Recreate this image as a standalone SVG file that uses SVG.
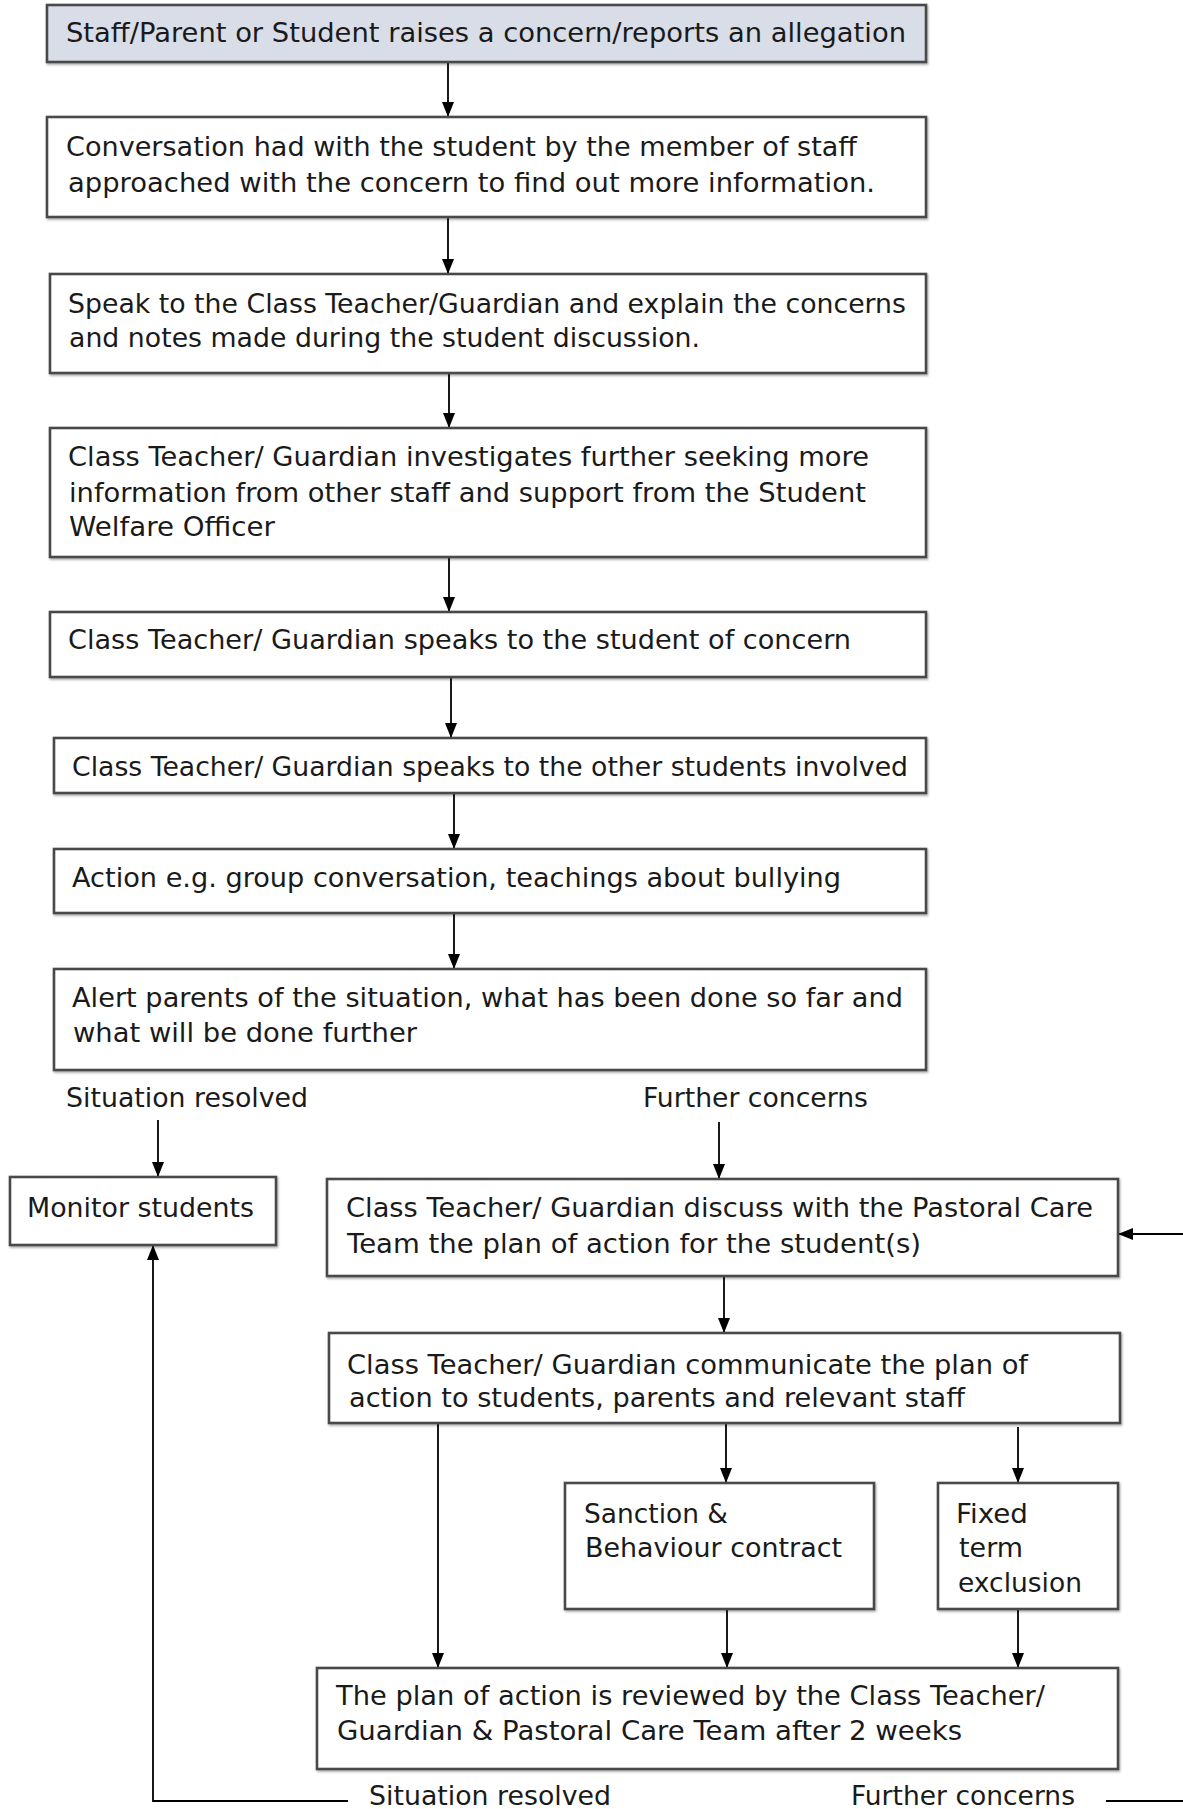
<svg xmlns="http://www.w3.org/2000/svg" width="1183" height="1809" viewBox="0 0 1183 1809">
<defs>
<marker id="ah" markerUnits="userSpaceOnUse" markerWidth="16" markerHeight="14" refX="15" refY="6" orient="auto">
<path d="M0,0 L15,6 L0,12 Z" fill="#000"/>
</marker>
<filter id="sh" x="-5%" y="-5%" width="110%" height="115%">
<feDropShadow dx="1" dy="1.5" stdDeviation="0.8" flood-color="#000" flood-opacity="0.35"/>
</filter>
</defs>
<style>
.box{fill:#fff;stroke:#4a4a4a;stroke-width:2.6;filter:url(#sh)}
.hd{fill:#d8dde7}
text{font-family:"DejaVu Sans","Liberation Sans",sans-serif;font-size:27px;fill:#1a1a1a}
.c{fill:none;stroke:#000;stroke-width:1.8}
.ca{fill:none;stroke:#000;stroke-width:1.8;marker-end:url(#ah)}
</style>
<rect width="1183" height="1809" fill="#fff"/>

<g id="connectors">
<line class="ca" x1="448" y1="58" x2="448" y2="117"/>
<line class="ca" x1="448" y1="217" x2="448" y2="274"/>
<line class="ca" x1="449" y1="373" x2="449" y2="428"/>
<line class="ca" x1="449" y1="557" x2="449" y2="612"/>
<line class="ca" x1="451" y1="677" x2="451" y2="738"/>
<line class="ca" x1="454" y1="793" x2="454" y2="849"/>
<line class="ca" x1="454" y1="913" x2="454" y2="969"/>
<line class="ca" x1="158" y1="1120" x2="158" y2="1177"/>
<line class="ca" x1="719" y1="1122" x2="719" y2="1179"/>
<line class="ca" x1="724" y1="1276" x2="724" y2="1333"/>
<line class="ca" x1="438" y1="1423" x2="438" y2="1668"/>
<line class="ca" x1="726" y1="1423" x2="726" y2="1483"/>
<line class="ca" x1="1018" y1="1427" x2="1018" y2="1483"/>
<line class="ca" x1="727" y1="1609" x2="727" y2="1668"/>
<line class="ca" x1="1018" y1="1609" x2="1018" y2="1668"/>
<path class="ca" d="M348,1801 H153 V1245"/>
<path class="ca" d="M1106,1801 H1195 V1234 H1118"/>
</g>

<g id="n1"><rect class="box hd" x="47" y="5" width="879" height="57"/>
<text x="66" y="42" textLength="840" lengthAdjust="spacingAndGlyphs">Staff/Parent or Student raises a concern/reports an allegation</text></g>

<g id="n2"><rect class="box" x="47" y="117" width="879" height="100"/>
<text x="66" y="156" textLength="791" lengthAdjust="spacingAndGlyphs">Conversation had with the student by the member of staff</text>
<text x="68" y="192" textLength="807" lengthAdjust="spacingAndGlyphs">approached with the concern to find out more information.</text></g>

<g id="n3"><rect class="box" x="50" y="274" width="876" height="99"/>
<text x="68" y="313" textLength="838" lengthAdjust="spacingAndGlyphs">Speak to the Class Teacher/Guardian and explain the concerns</text>
<text x="69" y="347" textLength="631" lengthAdjust="spacingAndGlyphs">and notes made during the student discussion.</text></g>

<g id="n4"><rect class="box" x="50" y="428" width="876" height="129"/>
<text x="68" y="466" textLength="801" lengthAdjust="spacingAndGlyphs">Class Teacher/ Guardian investigates further seeking more</text>
<text x="69" y="502" textLength="797" lengthAdjust="spacingAndGlyphs">information from other staff and support from the Student</text>
<text x="69" y="536" textLength="206" lengthAdjust="spacingAndGlyphs">Welfare Officer</text></g>

<g id="n5"><rect class="box" x="50" y="612" width="876" height="65"/>
<text x="68" y="649" textLength="783" lengthAdjust="spacingAndGlyphs">Class Teacher/ Guardian speaks to the student of concern</text></g>

<g id="n6"><rect class="box" x="54" y="738" width="872" height="55"/>
<text x="72" y="776" textLength="836" lengthAdjust="spacingAndGlyphs">Class Teacher/ Guardian speaks to the other students involved</text></g>

<g id="n7"><rect class="box" x="54" y="849" width="872" height="64"/>
<text x="72" y="887" textLength="769" lengthAdjust="spacingAndGlyphs">Action e.g. group conversation, teachings about bullying</text></g>

<g id="n8"><rect class="box" x="54" y="969" width="872" height="101"/>
<text x="72" y="1007" textLength="831" lengthAdjust="spacingAndGlyphs">Alert parents of the situation, what has been done so far and</text>
<text x="73" y="1042" textLength="344" lengthAdjust="spacingAndGlyphs">what will be done further</text></g>

<g id="labels">
<text x="66" y="1107" textLength="242" lengthAdjust="spacingAndGlyphs">Situation resolved</text>
<text x="643" y="1107" textLength="225" lengthAdjust="spacingAndGlyphs">Further concerns</text>
<text x="369" y="1805" textLength="242" lengthAdjust="spacingAndGlyphs">Situation resolved</text>
<text x="851" y="1805" textLength="224" lengthAdjust="spacingAndGlyphs">Further concerns</text>
</g>

<g id="monitor"><rect class="box" x="10" y="1177" width="266" height="68"/>
<text x="27" y="1217" textLength="227" lengthAdjust="spacingAndGlyphs">Monitor students</text></g>

<g id="n9"><rect class="box" x="327" y="1179" width="791" height="97"/>
<text x="346" y="1217" textLength="747" lengthAdjust="spacingAndGlyphs">Class Teacher/ Guardian discuss with the Pastoral Care</text>
<text x="347" y="1253" textLength="574" lengthAdjust="spacingAndGlyphs">Team the plan of action for the student(s)</text></g>

<g id="n10"><rect class="box" x="329" y="1333" width="791" height="90"/>
<text x="347" y="1374" textLength="681" lengthAdjust="spacingAndGlyphs">Class Teacher/ Guardian communicate the plan of</text>
<text x="349" y="1407" textLength="616" lengthAdjust="spacingAndGlyphs">action to students, parents and relevant staff</text></g>

<g id="sanction"><rect class="box" x="565" y="1483" width="309" height="126"/>
<text x="584" y="1523" textLength="144" lengthAdjust="spacingAndGlyphs">Sanction &amp;</text>
<text x="585" y="1557" textLength="257" lengthAdjust="spacingAndGlyphs">Behaviour contract</text></g>

<g id="fixed"><rect class="box" x="938" y="1483" width="180" height="126"/>
<text x="956" y="1523" textLength="72" lengthAdjust="spacingAndGlyphs">Fixed</text>
<text x="959" y="1557" textLength="64" lengthAdjust="spacingAndGlyphs">term</text>
<text x="958" y="1592" textLength="124" lengthAdjust="spacingAndGlyphs">exclusion</text></g>

<g id="review"><rect class="box" x="317" y="1668" width="801" height="101"/>
<text x="336" y="1705" textLength="709" lengthAdjust="spacingAndGlyphs">The plan of action is reviewed by the Class Teacher/</text>
<text x="337" y="1740" textLength="625" lengthAdjust="spacingAndGlyphs">Guardian &amp; Pastoral Care Team after 2 weeks</text></g>
</svg>
